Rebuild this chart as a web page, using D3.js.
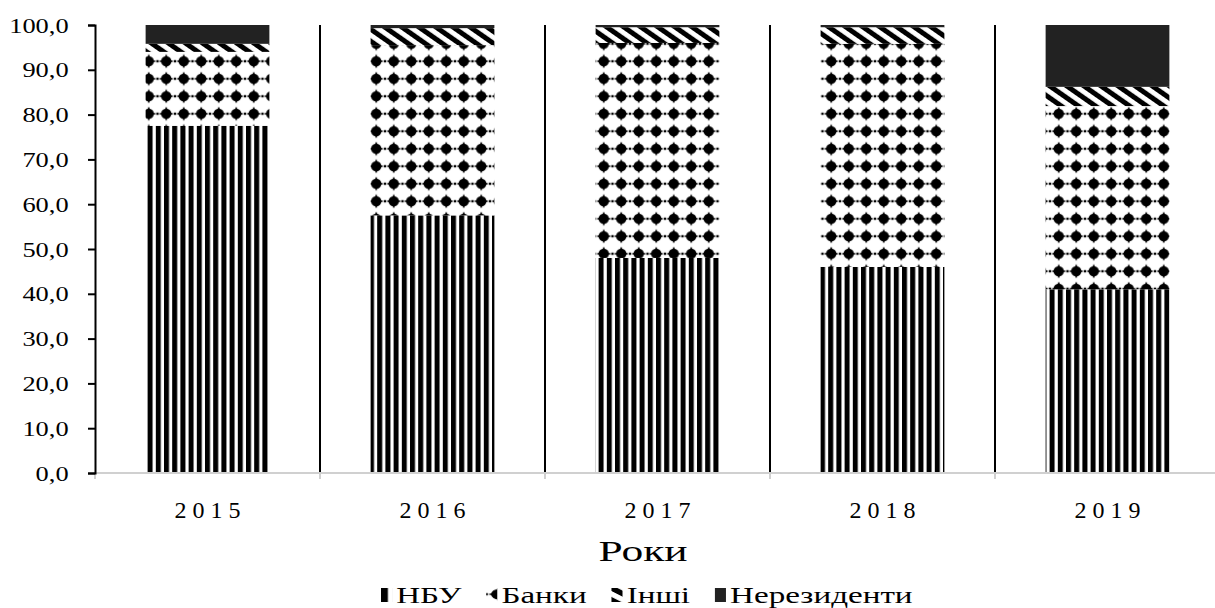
<!DOCTYPE html>
<html>
<head>
<meta charset="utf-8">
<script src="https://cdn.jsdelivr.net/npm/d3@7"></script>
<style>
  body { margin: 0; background: #fff; }
  text { font-family: "Liberation Serif", "Times New Roman", serif; fill: #000; }
</style>
</head>
<body>
<div id="chart"></div>
<script>
var width = 1215;
var height = 608;

// data (per cent)
var years = ["2015", "2016", "2017", "2018", "2019"];
var seriesNames = ["НБУ", "Банки", "Інші", "Нерезиденти"];
var nbu = [77.5, 57.5, 48.0, 46.0, 41.0];
var banks = [16.5, 38.0, 48.0, 49.8, 40.9];
var others = [1.8, 3.8, 3.5, 3.7, 4.3];
var nonres = [4.2, 0.7, 0.5, 0.5, 13.8];
var yTicks = [0, 10, 20, 30, 40, 50, 60, 70, 80, 90, 100];

var margin = { top: 25, right: -5, bottom: 135, left: 95 };

var svg = d3.select("#chart")
  .append("svg")
  .attr("width", width)
  .attr("height", height);

var defs = svg.append("defs");

// НБУ - vertical stripes
var pNbu = defs.append("pattern")
  .attr("id", "p-nbu")
  .attr("patternUnits", "userSpaceOnUse")
  .attr("width", 8.2).attr("height", 10);
pNbu.append("rect").attr("width", 8.2).attr("height", 10).attr("fill", "#fff");
pNbu.append("rect").attr("x", 0).attr("width", 5).attr("height", 10).attr("fill", "#000");

// Банки - dotted diamonds
var pBanks = defs.append("pattern")
  .attr("id", "p-banks")
  .attr("patternUnits", "userSpaceOnUse")
  .attr("width", 17.5).attr("height", 17.5);
pBanks.append("rect").attr("width", 17.5).attr("height", 17.5).attr("fill", "#fff");
pBanks.append("circle").attr("cx", 8.75).attr("cy", 8.75).attr("r", 5.2).attr("fill", "#000");
pBanks.append("path")
  .attr("d", "M8.75,1.4 L11.9,8.75 L8.75,16.1 L5.6,8.75 Z M1.4,8.75 L8.75,5.6 L16.1,8.75 L8.75,11.9 Z")
  .attr("fill", "#000");
pBanks.append("rect").attr("x", -1.2).attr("y", 7.6).attr("width", 2.4).attr("height", 2.3).attr("fill", "#000");
pBanks.append("rect").attr("x", 16.3).attr("y", 7.6).attr("width", 2.4).attr("height", 2.3).attr("fill", "#000");

// Інші - thick diagonal stripes
var pOthers = defs.append("pattern")
  .attr("id", "p-others")
  .attr("patternUnits", "userSpaceOnUse")
  .attr("width", 9.8).attr("height", 20)
  .attr("patternTransform", "rotate(-55)");
pOthers.append("rect").attr("width", 9.8).attr("height", 20).attr("fill", "#fff");
pOthers.append("rect").attr("width", 5).attr("height", 20).attr("fill", "#000");

var fills = ["url(#p-nbu)", "url(#p-banks)", "url(#p-others)", "#222"];

var x = d3.scaleBand()
  .domain(years)
  .range([margin.left, width - margin.right])
  .padding(0);

var y = d3.scaleLinear()
  .domain([0, 100])
  .range([height - margin.bottom, margin.top]);

var barW = x.bandwidth() * 0.55;

var table = years.map(function (yr, i) {
  return { year: yr, "НБУ": nbu[i], "Банки": banks[i], "Інші": others[i], "Нерезиденти": nonres[i] };
});
var stacked = d3.stack().keys(seriesNames)(table);

// vertical separators between years
svg.append("g")
  .selectAll("line")
  .data(years.slice(1))
  .enter()
  .append("line")
  .attr("x1", function (d) { return x(d); })
  .attr("x2", function (d) { return x(d); })
  .attr("y1", y(100))
  .attr("y2", y(0))
  .attr("stroke", "#000")
  .attr("stroke-width", 2);

// bars
svg.append("g")
  .selectAll("g")
  .data(stacked)
  .enter()
  .append("g")
  .attr("fill", function (d, i) { return fills[i]; })
  .selectAll("rect")
  .data(function (d) { return d; })
  .enter()
  .append("rect")
  .attr("x", function (d) { return x(d.data.year) + (x.bandwidth() - barW) / 2; })
  .attr("y", function (d) { return y(d[1]); })
  .attr("width", barW)
  .attr("height", function (d) { return y(d[0]) - y(d[1]); });

// x axis (light grey)
var xAxis = svg.append("g")
  .attr("transform", "translate(0," + y(0) + ")");
xAxis.append("line")
  .attr("x1", margin.left).attr("x2", width)
  .attr("stroke", "#d0d0d0").attr("stroke-width", 2);
xAxis.selectAll("line.tk")
  .data(years)
  .enter()
  .append("line")
  .attr("class", "tk")
  .attr("x1", function (d) { return x(d); })
  .attr("x2", function (d) { return x(d); })
  .attr("y1", 0).attr("y2", 6)
  .attr("stroke", "#d0d0d0").attr("stroke-width", 2);
xAxis.selectAll("text")
  .data(years)
  .enter()
  .append("text")
  .attr("transform", function (d) { return "translate(" + (x(d) + x.bandwidth() / 2 + 3) + ",45)"; })
  .attr("text-anchor", "middle")
  .style("font-size", "24px")
  .style("letter-spacing", "6px")
  .text(function (d) { return d; });

// y axis
var fmt = function (v) { return d3.format(".1f")(v).replace(".", ","); };
var yAxis = d3.axisLeft(y)
  .tickValues(yTicks)
  .tickFormat(fmt)
  .tickSize(7)
  .tickPadding(18);
var gy = svg.append("g")
  .attr("transform", "translate(" + margin.left + ",0)")
  .call(yAxis);
gy.select(".domain").attr("stroke-width", 2);
gy.selectAll(".tick line").attr("stroke-width", 2);
gy.selectAll(".tick text")
  .style("font-size", "22px")
  .style("font-family", "'Liberation Serif', serif")
  .attr("transform", "scale(1.2,1)")
  .attr("x", -22);

// axis title
svg.append("text")
  .attr("transform", "translate(643,561) scale(1.45,1)")
  .attr("text-anchor", "middle")
  .style("font-size", "30px")
  .text("Роки");

// legend (text is drawn wide, like in the picture)
var legend = svg.append("g").attr("transform", "translate(381,603) scale(1.38,1)");
var lx = 0;
seriesNames.forEach(function (name, i) {
  var item = legend.append("g").attr("transform", "translate(" + lx + ",0)");
  item.append("rect")
    .attr("x", 0).attr("y", -15)
    .attr("width", 8).attr("height", 14)
    .attr("fill", fills[i]);
  var t = item.append("text")
    .attr("x", 11)
    .attr("y", 0)
    .style("font-size", "24px")
    .text(name);
  lx += 11 + t.node().getComputedTextLength() + 18;
});
</script>
</body>
</html>
